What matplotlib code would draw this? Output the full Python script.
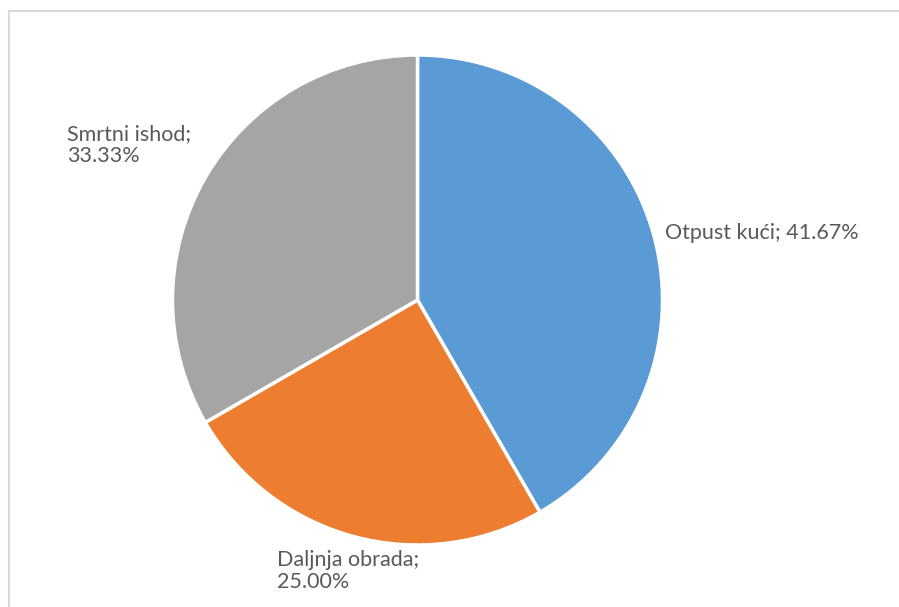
import matplotlib
matplotlib.use("Agg")
import matplotlib.pyplot as plt
from matplotlib.lines import Line2D

categories = ["Otpust kući", "Daljnja obrada", "Smrtni ishod"]
values = [41.67, 25.00, 33.33]
colors = ["#5B9BD5", "#ED7D31", "#A5A5A5"]

W, H = 899, 607
fig = plt.figure(figsize=(W / 100, H / 100), dpi=100)
ax = fig.add_axes([0, 0, 1, 1])

cx, cy, r = 417.5, H - 300, 245
ax.pie(values, colors=colors, startangle=90, counterclock=False,
       center=(cx, cy), radius=r, frame=True,
       wedgeprops=dict(edgecolor="white", linewidth=2.5))
ax.set_xlim(0, W)
ax.set_ylim(0, H)
ax.set_aspect("auto")
ax.axis("off")

font = dict(family=["Lato", "DejaVu Sans"], fontsize=15.5, color="#595959")
ax.text(665, H - 233, f"{categories[0]}; {values[0]:.2f}%", ha="left", va="center", **font)
ax.text(277, H - 571, f"{categories[1]};\n{values[1]:.2f}%", ha="left", va="center",
        linespacing=1.12, **font)
ax.text(67, H - 145, f"{categories[2]};\n{values[2]:.2f}%", ha="left", va="center",
        linespacing=1.12, **font)

# chart frame (partially visible)
fig.add_artist(Line2D([8.5 / W, 8.5 / W], [0, 1 - 11 / H], transform=fig.transFigure,
                      color="#d9d9d9", linewidth=1.5))
fig.add_artist(Line2D([8.5 / W, 1], [1 - 11 / H, 1 - 11 / H], transform=fig.transFigure,
                      color="#d9d9d9", linewidth=1.5))

fig.savefig("out.png", dpi=100, facecolor="white")
